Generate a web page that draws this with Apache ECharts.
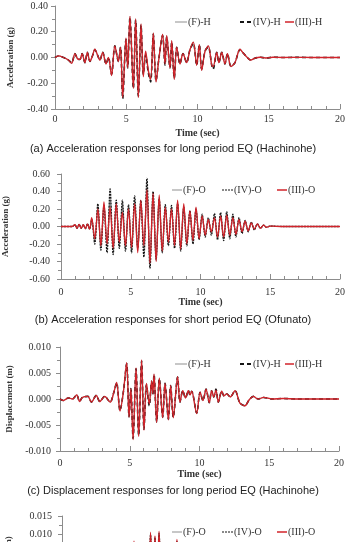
<!DOCTYPE html>
<html>
<head>
<meta charset="utf-8">
<script src="https://cdn.jsdelivr.net/npm/echarts@6.0.0/dist/echarts.min.js"></script>
<style>
  html, body { margin: 0; padding: 0; background: #fff; }
  #main { width: 346px; height: 542px; }
</style>
</head>
<body>
<div id="main"></div>
<script>
// (a) acceleration, Hachinohe (g)
const tAccH = [0, 0.23, 0.6, 0.94, 1.17, 1.4, 1.58, 1.75, 1.9, 2.1, 2.27, 2.45, 2.62, 2.8, 2.98, 3.15, 3.35, 3.58, 3.75, 3.97,
  4.2, 4.45, 4.6, 4.75, 4.98, 5.1, 5.26, 5.5, 5.66, 5.85, 6.04, 6.2, 6.36, 6.55, 6.71, 6.9, 7.09, 7.3, 7.55, 7.72,
  7.84, 8.07, 8.19, 8.37, 8.54, 8.77, 8.98, 9.24, 9.47, 9.71, 9.94, 10.13, 10.29, 10.53, 10.76, 11.0, 11.1, 11.35, 11.5, 11.7,
  11.93, 12.1, 12.35, 12.63, 12.98, 13.17, 13.45, 13.73, 14.03, 14.4, 14.8, 15.3, 16, 17, 18, 19, 20];
const accH_III = [0, 0.013, 0, -0.02, -0.045, 0.03, -0.01, -0.015, 0.03, -0.04, 0.04, -0.03, 0.01, 0.065, 0.02, -0.02, 0.04, -0.05, 0, -0.14,
  0.09, -0.03, 0.08, -0.31, 0.15, -0.08, 0.32, -0.24, 0.30, -0.31, 0.26, -0.15, 0.05, -0.10, -0.17, 0.19, -0.19, 0, 0.18, -0.05,
  0.17, -0.08, 0.13, -0.17, 0.08, -0.05, 0.03, -0.04, 0.06, 0.12, -0.06, 0.10, -0.10, 0.05, 0.09, -0.06, -0.07, 0.04, -0.04, 0.04,
  -0.05, 0.03, -0.07, -0.04, 0.065, 0.04, 0.005, -0.02, -0.005, 0.002, -0.004, 0.002, 0, 0.001, 0, 0, 0];
const accH_IV = [0, 0.012, 0, -0.02, -0.04, 0.03, -0.01, -0.015, 0.03, -0.04, 0.04, -0.03, 0.01, 0.06, 0.02, -0.02, 0.04, -0.05, 0, -0.13,
  0.09, -0.03, 0.08, -0.32, 0.14, -0.08, 0.31, -0.24, 0.29, -0.30, 0.25, -0.13, 0.02, -0.12, -0.19, 0.18, -0.18, 0, 0.17, -0.06,
  0.16, -0.08, 0.12, -0.16, 0.08, -0.05, 0.03, -0.04, 0.06, 0.11, -0.06, 0.10, -0.09, 0.05, 0.08, -0.06, -0.09, 0.04, -0.04, 0.04,
  -0.05, 0.03, -0.07, -0.04, 0.06, 0.04, 0.005, -0.02, -0.005, 0.002, -0.004, 0.002, 0, 0.001, 0, 0, 0];
const accH_F = [0, 0.013, 0, -0.02, -0.045, 0.03, -0.01, -0.015, 0.03, -0.04, 0.04, -0.03, 0.01, 0.065, 0.02, -0.02, 0.04, -0.05, 0, -0.14,
  0.09, -0.03, 0.08, -0.30, 0.15, -0.08, 0.32, -0.24, 0.30, -0.31, 0.26, -0.14, 0.04, -0.11, -0.18, 0.19, -0.19, 0, 0.18, -0.05,
  0.17, -0.08, 0.13, -0.17, 0.08, -0.05, 0.03, -0.04, 0.06, 0.12, -0.06, 0.10, -0.10, 0.05, 0.09, -0.06, -0.08, 0.04, -0.04, 0.04,
  -0.05, 0.03, -0.07, -0.04, 0.065, 0.04, 0.005, -0.02, -0.005, 0.002, -0.004, 0.002, 0, 0.001, 0, 0, 0];

// (b) acceleration, Ofunato (g)
const tAccO = [0, 0.8, 1.0, 1.15, 1.3, 1.45, 1.6, 1.75, 1.9, 2.05,
  2.20, 2.42, 2.64, 2.86, 3.08, 3.30, 3.52, 3.74, 3.96, 4.18, 4.40, 4.62, 4.84, 5.06, 5.28, 5.50, 5.72, 5.94, 6.16, 6.38,
  6.60, 6.82, 7.04, 7.26, 7.48, 7.70, 7.92, 8.14, 8.36, 8.58, 8.80, 9.02, 9.24, 9.46, 9.68, 9.90, 10.12, 10.34, 10.56, 10.78,
  11.00, 11.22, 11.44, 11.66, 11.88, 12.10, 12.32, 12.54, 12.76, 12.98, 13.20, 13.42, 13.64, 13.86, 14.08, 14.30, 14.52, 14.74, 14.96,
  15.4, 16, 18, 20];
const accO_III = [0, 0, 0.02, -0.02, 0.025, -0.02, 0.02, -0.025, 0.03, -0.03,
  0.10, -0.14, 0.20, -0.22, 0.28, -0.20, 0.22, -0.25, 0.26, -0.18, 0.16, -0.22, 0.20, -0.24, 0.26, -0.30, 0.30, -0.22, 0.42, -0.42,
  0.38, -0.40, 0.36, -0.28, 0.22, -0.18, 0.20, -0.22, 0.30, -0.26, 0.26, -0.20, 0.18, -0.16, 0.22, -0.14, 0.12, -0.10, 0.08, -0.06,
  0.10, -0.12, 0.12, -0.12, 0.13, -0.10, 0.10, -0.09, 0.08, -0.06, 0.06, -0.05, 0.04, -0.03, 0.03, -0.02, 0.015, -0.01, 0.005,
  0.002, 0, 0, 0];
const accO_IV = [0, 0, 0.02, -0.02, 0.025, -0.02, 0.02, -0.025, 0.03, -0.03,
  0.08, -0.20, 0.26, -0.27, 0.24, -0.30, 0.43, -0.32, 0.30, -0.25, 0.30, -0.28, 0.25, -0.30, 0.35, -0.25, 0.30, -0.35, 0.55, -0.48,
  0.40, -0.38, 0.32, -0.30, 0.25, -0.22, 0.24, -0.25, 0.26, -0.28, 0.22, -0.22, 0.18, -0.20, 0.20, -0.15, 0.14, -0.12, 0.10, -0.10,
  0.15, -0.15, 0.16, -0.16, 0.17, -0.14, 0.14, -0.12, 0.10, -0.08, 0.07, -0.06, 0.05, -0.04, 0.03, -0.02, 0.015, -0.01, 0.005,
  0.002, 0, 0, 0];
const accO_F = [0, 0, 0.02, -0.02, 0.025, -0.02, 0.02, -0.025, 0.03, -0.03,
  0.09, -0.17, 0.23, -0.25, 0.26, -0.25, 0.32, -0.28, 0.28, -0.22, 0.24, -0.25, 0.22, -0.27, 0.30, -0.28, 0.30, -0.28, 0.48, -0.45,
  0.39, -0.39, 0.34, -0.29, 0.24, -0.20, 0.22, -0.24, 0.28, -0.27, 0.24, -0.21, 0.18, -0.18, 0.21, -0.15, 0.13, -0.11, 0.09, -0.08,
  0.12, -0.13, 0.14, -0.14, 0.15, -0.12, 0.12, -0.10, 0.09, -0.07, 0.06, -0.05, 0.04, -0.03, 0.03, -0.02, 0.015, -0.01, 0.005,
  0.002, 0, 0, 0];

// (c) displacement, Hachinohe (m)
const tDispH = [0, 0.24, 0.6, 0.9, 1.2, 1.4, 1.6, 2.0, 2.25, 2.6, 2.85, 3.2, 3.6, 3.85, 4.06, 4.3, 4.55, 4.78, 4.95, 5.08,
  5.24, 5.45, 5.64, 5.85, 6.02, 6.2, 6.4, 6.57, 6.65, 6.74, 6.93, 7.12, 7.36, 7.53, 7.77, 7.93, 8.12, 8.43, 8.6, 8.8,
  9.0, 9.2, 9.32, 9.44, 9.8, 10.04, 10.25, 10.47, 10.7, 10.87, 11.02, 11.18, 11.35, 11.59, 11.75, 11.95, 12.2, 12.55, 12.9, 13.26,
  13.55, 13.86, 14.2, 14.6, 15.2, 16, 17, 18, 20];
const dispH_III = [0, -0.0003, 0.0002, 0, 0.0008, -0.0005, 0.0003, 0.0005, -0.0006, 0.0007, -0.0005, 0.0005, -0.0006, 0.0012, 0.0032, -0.0023, 0.0015, 0.007, -0.0035, 0.002,
  -0.0078, 0.006, -0.0072, 0.0075, -0.006, 0.003, -0.001, 0.0035, 0.001, 0.0048, -0.0045, 0.004, -0.0036, 0.003, -0.004, 0.0026, -0.0036, 0.0043, -0.0006, 0.0016,
  0.0002, 0.0016, 0.0008, 0.0015, -0.0028, 0.0013, -0.0003, 0.0019, -0.0007, 0.0016, 0.0004, 0.0017, -0.0006, 0.0015, 0.0006, 0.001, 0.0004, 0.0016, -0.0008, -0.0013,
  -0.0002, 0.0005, 0, 0.0003, 0, 0.0001, 0, 0, 0];
const dispH_IV = [0, -0.0003, 0.0002, 0, 0.0008, -0.0005, 0.0003, 0.0005, -0.0006, 0.0007, -0.0005, 0.0005, -0.0006, 0.0012, 0.0031, -0.0022, 0.0015, 0.0068, -0.0034, 0.002,
  -0.0076, 0.0058, -0.007, 0.0073, -0.0058, 0.0028, -0.0013, 0.0034, 0.0009, 0.0047, -0.0044, 0.0039, -0.0035, 0.003, -0.0039, 0.0026, -0.0035, 0.0042, -0.0006, 0.0016,
  0.0002, 0.0016, 0.0008, 0.0015, -0.0027, 0.0013, -0.0003, 0.0019, -0.0007, 0.0016, 0.0004, 0.0019, -0.0006, 0.0015, 0.0006, 0.001, 0.0004, 0.0016, -0.0008, -0.0013,
  -0.0002, 0.0005, 0, 0.0003, 0, 0.0001, 0, 0, 0];
const dispH_F = [0, -0.0003, 0.0002, 0, 0.0008, -0.0005, 0.0003, 0.0005, -0.0006, 0.0007, -0.0005, 0.0005, -0.0006, 0.0012, 0.0032, -0.0023, 0.0015, 0.0069, -0.0035, 0.002,
  -0.0077, 0.0059, -0.0071, 0.0074, -0.0059, 0.0029, -0.0011, 0.0035, 0.001, 0.0048, -0.0045, 0.004, -0.0036, 0.003, -0.004, 0.0026, -0.0036, 0.0043, -0.0006, 0.0016,
  0.0002, 0.0016, 0.0008, 0.0015, -0.0028, 0.0013, -0.0003, 0.0019, -0.0007, 0.0016, 0.0004, 0.0018, -0.0006, 0.0015, 0.0006, 0.001, 0.0004, 0.0016, -0.0008, -0.0013,
  -0.0002, 0.0005, 0, 0.0003, 0, 0.0001, 0, 0, 0];

// (d) displacement, Ofunato (m) - only the top of this panel is in frame
const tDispO = [0, 1.0, 1.5, 2.0, 2.3, 2.6, 2.9, 3.2, 3.5, 3.8, 4.1, 4.4, 4.7, 4.95, 5.18, 5.4, 5.6, 5.8, 6.0, 6.2,
  6.37, 6.53, 6.69, 6.84, 6.98, 7.2, 7.4, 7.6, 7.8, 8.05, 8.27, 8.5, 8.7, 8.9, 9.1, 9.3, 9.5, 9.7, 9.9, 10.2,
  10.5, 10.8, 11.1, 11.4, 11.7, 12.0, 12.4, 12.8, 13.3, 14, 15, 16, 18, 20];
const dispO_III = [0, 0, 0.0002, -0.0003, 0.0008, -0.0012, 0.002, -0.0025, 0.003, -0.0035, 0.004, -0.0045, 0.005, -0.006, 0.008, -0.007, 0.006, -0.0075, 0.007, -0.009,
  0.0105, -0.008, 0.0095, -0.006, 0.0108, -0.009, 0.006, -0.007, 0.005, -0.006, 0.0085, -0.007, 0.005, -0.005, 0.004, -0.004, 0.0045, -0.005, 0.004, -0.0035,
  0.003, -0.003, 0.0035, -0.003, 0.0025, -0.002, 0.0015, -0.001, 0.0005, -0.0002, 0.0001, 0, 0, 0];
const dispO_IV = [0, 0, 0.0002, -0.0003, 0.0008, -0.0013, 0.0022, -0.0027, 0.0033, -0.0038, 0.0044, -0.005, 0.0055, -0.0065, 0.0075, -0.0075, 0.0065, -0.008, 0.0075, -0.0095,
  0.0098, -0.0085, 0.009, -0.0065, 0.0102, -0.0095, 0.0065, -0.0075, 0.0055, -0.0065, 0.008, -0.0075, 0.0055, -0.0055, 0.0045, -0.0045, 0.005, -0.0055, 0.0045, -0.004,
  0.0035, -0.0035, 0.004, -0.0035, 0.003, -0.0025, 0.0018, -0.0012, 0.0006, -0.0002, 0.0001, 0, 0, 0];
const dispO_F = [0, 0, 0.0002, -0.0003, 0.0008, -0.0012, 0.0021, -0.0026, 0.0031, -0.0036, 0.0042, -0.0047, 0.0052, -0.0062, 0.0078, -0.0072, 0.0062, -0.0077, 0.0072, -0.0092,
  0.0101, -0.0082, 0.0092, -0.0062, 0.0105, -0.0092, 0.0062, -0.0072, 0.0052, -0.0062, 0.0082, -0.0072, 0.0052, -0.0052, 0.0042, -0.0042, 0.0047, -0.0052, 0.0042, -0.0037,
  0.0032, -0.0032, 0.0037, -0.0032, 0.0027, -0.0022, 0.0016, -0.0011, 0.0005, -0.0002, 0.0001, 0, 0, 0];

const namesH = ['(F)-H', '(IV)-H', '(III)-H'];
const namesO = ['(F)-O', '(IV)-O', '(III)-O'];
const captions = [
  '(a) Acceleration responses for long period EQ (Hachinohe)',
  '(b) Acceleration responses for short period EQ (Ofunato)',
  '(c) Displacement responses for long period EQ (Hachinohe)'
];

const serif = 'Liberation Serif';
const axisGrey = '#8c8c8c';
const red = '#d2232a';
const grey = '#a9a9a9';
const black = '#151515';

const chart = echarts.init(document.getElementById('main'), null, { renderer: 'canvas' });

// grid boxes
const grids = [
  { left: 55, top: 6, width: 285, height: 103 },
  { left: 61, top: 174, width: 279, height: 105 },
  { left: 60, top: 347, width: 279, height: 104 },
  { left: 62, top: 516, width: 278, height: 108 }
];

function xAx(gi, labelMargin, nameGap) {
  return {
    type: 'value', gridIndex: gi, min: 0, max: 20, interval: 5,
    name: 'Time (sec)', nameLocation: 'middle', nameGap: nameGap,
    nameTextStyle: { fontFamily: serif, fontWeight: 'bold', fontSize: 10, color: '#333' },
    axisLine: { onZero: false, lineStyle: { color: axisGrey, width: 1 } },
    axisTick: { inside: true, length: 5, lineStyle: { color: axisGrey } },
    minorTick: { show: true, splitNumber: 5, length: 3, lineStyle: { color: axisGrey } },
    axisLabel: { fontFamily: serif, fontSize: 10, color: '#333', margin: labelMargin },
    splitLine: { show: false }
  };
}

function yAx(gi, min, max, interval, digits, name, nameGap, labelMargin) {
  return {
    type: 'value', gridIndex: gi, min: min, max: max, interval: interval,
    name: name, nameLocation: 'middle', nameGap: nameGap,
    nameTextStyle: { fontFamily: serif, fontWeight: 'bold', fontSize: 9, color: '#333' },
    axisLine: { show: true, lineStyle: { color: axisGrey, width: 1 } },
    axisTick: { show: true, length: 4, lineStyle: { color: axisGrey } },
    minorTick: { show: true, splitNumber: 2, length: 3, lineStyle: { color: axisGrey } },
    axisLabel: {
      fontFamily: serif, fontSize: 10, color: '#333', margin: labelMargin,
      formatter: v => v.toFixed(digits)
    },
    splitLine: { show: false }
  };
}

function line(name, gi, t, v, style) {
  return {
    name: name, type: 'line', xAxisIndex: gi, yAxisIndex: gi,
    data: t.map((x, i) => [x, v[i]]),
    symbol: 'none', smooth: 0.3, color: style.color, lineStyle: style, animation: false
  };
}

const greyStyle = { color: grey, width: 1.2 };
const redStyle = { color: red, width: 1.3 };
const blackDash = { color: black, width: 1.6, type: [4, 3] };
const blackDot = { color: black, width: 1.3, type: [2, 1] };

// legend keys drawn by hand, Excel style: short line then the name
function legendKeys(names, cy, iconX, textX, ivDash) {
  const styles = [
    { stroke: grey, lineWidth: 1.3 },
    { stroke: black, lineWidth: ivDash ? 2 : 1.2, lineDash: ivDash ? [4, 3] : [2, 1] },
    { stroke: red, lineWidth: 1.5 }
  ];
  const out = [];
  names.forEach((n, i) => {
    out.push({ type: 'line', shape: { x1: iconX[i][0], y1: cy, x2: iconX[i][1], y2: cy }, style: styles[i] });
    out.push({
      type: 'text', x: textX[i], y: cy,
      style: { text: n, font: '10px "Liberation Serif"', fill: '#333', verticalAlign: 'middle' }
    });
  });
  return out;
}

const graphics = []
  .concat(legendKeys(namesH, 22, [[175, 187], [240, 252], [285, 294]], [188, 253, 295], true))
  .concat(legendKeys(namesO, 190, [[172, 182], [222, 233], [277, 287]], [183, 234, 288], false))
  .concat(legendKeys(namesH, 364, [[175, 187], [240, 252], [285, 294]], [188, 253, 295], true))
  .concat(legendKeys(namesO, 532, [[172, 182], [222, 233], [277, 287]], [183, 234, 288], false))
  .concat(captions.map((c, i) => ({
    type: 'text', left: 'center', top: [143, 314, 485][i],
    style: { text: c, font: '11px "Liberation Sans"', fill: '#222' }
  })));

const option = {
  backgroundColor: '#fff',
  animation: false,
  grid: grids.map(g => Object.assign({ outerBoundsMode: 'none', containLabel: false }, g)),
  xAxis: [xAx(0, 5, 19), xAx(1, 8, 18), xAx(2, 7, 18), xAx(3, 8, 18)],
  yAxis: [
    yAx(0, -0.4, 0.4, 0.2, 2, 'Acceleration (g)', 40, 7),
    yAx(1, -0.6, 0.6, 0.2, 2, 'Acceleration (g)', 51, 11),
    yAx(2, -0.01, 0.01, 0.005, 3, 'Displacement (m)', 46, 9),
    yAx(3, -0.015, 0.015, 0.005, 3, 'Displacement (m)', 49, 10)
  ],
  graphic: graphics,
  series: [
    line(namesH[0], 0, tAccH, accH_F, greyStyle),
    line(namesH[1], 0, tAccH, accH_IV, blackDash),
    line(namesH[2], 0, tAccH, accH_III, redStyle),
    line(namesO[0], 1, tAccO, accO_F, greyStyle),
    line(namesO[1], 1, tAccO, accO_IV, blackDot),
    line(namesO[2], 1, tAccO, accO_III, redStyle),
    line(namesH[0], 2, tDispH, dispH_F, greyStyle),
    line(namesH[1], 2, tDispH, dispH_IV, blackDash),
    line(namesH[2], 2, tDispH, dispH_III, redStyle),
    line(namesO[0], 3, tDispO, dispO_F, greyStyle),
    line(namesO[1], 3, tDispO, dispO_IV, blackDot),
    line(namesO[2], 3, tDispO, dispO_III, redStyle)
  ]
};

chart.setOption(option);
</script>
</body>
</html>
